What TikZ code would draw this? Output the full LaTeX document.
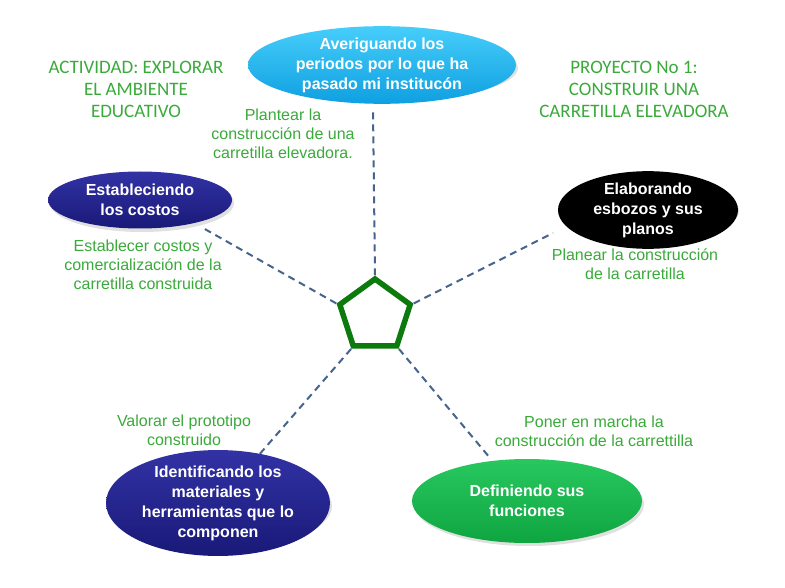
\documentclass[tikz,border=0pt]{standalone}
\usepackage{fontspec}
\setmainfont{Liberation Sans}
\newfontfamily\calib{Carlito}
\usetikzlibrary{shapes.geometric}
\definecolor{txtgreen}{RGB}{58,170,58}
\definecolor{dashblue}{RGB}{70,100,140}
\definecolor{pentgreen}{RGB}{12,122,12}
\begin{document}
\begin{tikzpicture}[x=1pt,y=-1pt,
  oval/.style={ellipse, inner sep=0pt, align=center, text=white,
    font=\fontsize{16}{20}\selectfont\bfseries},
  desc/.style={align=center, text=txtgreen, inner sep=0pt,
    font=\fontsize{16}{19}\selectfont},
  title/.style={align=center, text=txtgreen, inner sep=0pt,
    font=\calib\fontsize{19}{22}\selectfont},
  link/.style={draw=dashblue, line width=2pt, dash pattern=on 7pt off 5pt}]
\useasboundingbox (0,0) rectangle (785,588);
\fill[white] (0,0) rectangle (785,588);

% shadows
\foreach \cx/\cy/\rx/\ry in {384/68/134/33, 142/203/92/29, 649/211/90/29, 220/506/112/43, 529/504/115/42}
  \fill[black!12] (\cx,\cy) ellipse ({\rx pt} and {\ry pt});

\node[oval, minimum width=268pt, minimum height=66pt, top color={rgb,255:red,70;green,205;blue,250}, bottom color={rgb,255:red,15;green,160;blue,225}] (top) at (382,65)
  {Averiguando los\\periodos por lo que ha\\pasado mi institucón};
\node[oval, minimum width=184pt, minimum height=57pt, top color={rgb,255:red,50;green,50;blue,165}, bottom color={rgb,255:red,25;green,25;blue,120}] (costs) at (140,200)
  {Estableciendo\\los costos};
\node[oval, minimum width=180pt, minimum height=60pt, fill=black] (plans) at (648,210)
  {Elaborando\\esbozos y sus\\planos};
\node[oval, minimum width=224pt, minimum height=86pt, top color={rgb,255:red,50;green,50;blue,165}, bottom color={rgb,255:red,25;green,25;blue,120}] (mat) at (218,503)
  {Identificando los\\materiales y\\herramientas que lo\\componen};
\node[oval, minimum width=230pt, minimum height=84pt, top color={rgb,255:red,40;green,200;blue,95}, bottom color={rgb,255:red,15;green,165;blue,65}] (func) at (527,501)
  {Definiendo sus\\funciones};

\node[title] (act) at (136,89) {ACTIVIDAD: EXPLORAR\\EL AMBIENTE\\EDUCATIVO};
\node[title] (proj) at (634,89) {PROYECTO No 1:\\CONSTRUIR UNA\\CARRETILLA ELEVADORA};

\node[desc] (d1) at (283,134) {Plantear la\\construcción de una\\carretilla elevadora.};
\node[desc] (d2) at (143,265) {Establecer costos y\\comercialización de la\\carretilla construida};
\node[desc] (d3) at (635,264) {Planear la construcción\\de la carretilla};
\node[desc] (d4) at (184,430) {Valorar el prototipo\\construido};
\node[desc] (d5) at (594,431) {Poner en marcha la\\construcción de la carrettilla};

\node[regular polygon, regular polygon sides=5, minimum size=74pt, inner sep=0pt, outer sep=3pt,
  draw=pentgreen, line width=5.5pt] (pent) at (375,316) {};

\coordinate (e1) at (373,110);
\coordinate (e2) at (203,228);
\coordinate (e3) at (553,233);
\coordinate (e4) at (258,456);
\coordinate (e5) at (490,458);
\draw[link] (pent.corner 1) -- (e1);
\draw[link] (pent.corner 2) -- (e2);
\draw[link] (pent.corner 5) -- (e3);
\draw[link] (pent.corner 3) -- (e4);
\draw[link] (pent.corner 4) -- (e5);
\end{tikzpicture}
\end{document}
